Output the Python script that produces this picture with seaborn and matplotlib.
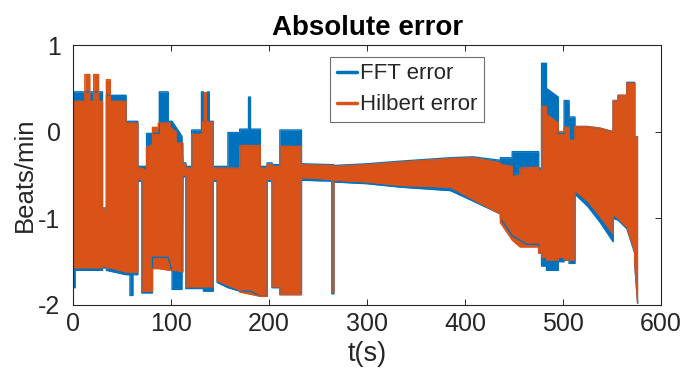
import numpy as np
import pandas as pd
import matplotlib
matplotlib.use("Agg")
import matplotlib.pyplot as plt
from matplotlib.lines import Line2D
import seaborn as sns

# ---- data (envelope vertices of the dense oscillation) ----
hil_t = [0.5, 12, 12, 17, 17, 21, 21, 26, 26, 30, 30, 34, 34, 38, 38, 54, 54, 66, 66, 70,
         70, 75, 75, 81, 81, 87, 87, 99, 99, 105, 105, 112, 112, 115, 115, 121, 121, 132, 132, 134,
         134, 136, 136, 143, 143, 147, 147, 170, 170, 191, 191, 198, 198, 203, 203, 211, 211, 233, 233, 264,
         264, 266, 266, 300, 334, 385, 408, 436, 436, 448, 448, 456, 456, 475, 475, 478, 478, 483, 483, 495,
         495, 501, 501, 506, 506, 512, 512, 525, 538, 551, 551, 556, 556, 565, 565, 573, 573, 576]
hil_hi = [0.35, 0.35, 0.66, 0.66, 0.35, 0.35, 0.66, 0.66, 0.35, 0.35, -0.90, -0.90, 0.60, 0.60, 0.35, 0.35, 0.10, 0.10, -0.42, -0.42,
          -0.42, -0.45, -0.18, -0.15, 0.05, 0.05, 0.10, 0.10, 0.05, 0.00, -0.13, -0.13, -0.38, -0.38, -0.42, -0.42, -0.03, -0.03, 0.11, 0.11,
          0.45, 0.45, 0.11, 0.11, -0.42, -0.42, -0.42, -0.42, -0.16, -0.16, -0.42, -0.42, -0.38, -0.38, -0.40, -0.40, -0.17, -0.17, -0.38, -0.39,
          -0.39, -0.39, -0.40, -0.38, -0.35, -0.31, -0.30, -0.36, -0.38, -0.40, -0.52, -0.50, -0.42, -0.41, -0.45, -0.45, 0.29, 0.29, 0.20, 0.10,
          0.00, 0.00, 0.05, 0.05, -0.10, -0.10, 0.06, 0.06, 0.04, 0.00, 0.36, 0.36, 0.42, 0.42, 0.56, 0.56, -0.06, -0.06]
hil_lo = [-1.57, -1.57, -1.57, -1.57, -1.57, -1.57, -1.57, -1.57, -1.57, -1.57, -1.55, -1.55, -1.57, -1.57, -1.57, -1.62, -1.62, -1.62, -0.55, -0.55,
          -1.84, -1.84, -1.84, -1.84, -1.58, -1.58, -1.58, -1.60, -1.60, -1.60, -1.60, -1.62, -0.50, -0.50, -1.79, -1.79, -1.79, -1.79, -1.79, -1.79,
          -1.79, -1.79, -1.79, -1.79, -0.55, -0.55, -1.72, -1.83, -1.85, -1.90, -1.90, -1.90, -0.55, -0.55, -1.79, -1.79, -1.88, -1.88, -0.53, -0.55,
          -1.85, -1.85, -0.56, -0.58, -0.62, -0.64, -0.78, -0.95, -1.05, -1.25, -1.25, -1.33, -1.33, -1.33, -1.40, -1.40, -1.45, -1.45, -1.48, -1.48,
          -1.45, -1.45, -1.48, -1.48, -1.48, -1.48, -0.68, -0.80, -0.98, -1.18, -0.95, -1.00, -1.00, -1.10, -1.10, -1.38, -1.50, -1.98]

fft_t = [0, 2, 2, 30, 30, 34, 34, 54, 54, 58, 58, 61, 61, 66, 66, 70, 70, 75, 75, 81,
         81, 88, 88, 97, 97, 101, 101, 111, 112, 115, 115, 121, 121, 131, 131, 133, 133, 137, 137, 139,
         139, 143, 143, 147, 147, 158, 158, 170, 170, 179, 179, 181, 181, 191, 191, 198, 198, 203, 203, 211,
         211, 233, 233, 264, 264, 266, 266, 300, 334, 385, 408, 436, 436, 448, 448, 463, 475, 475, 478, 478,
         483, 483, 495, 495, 501, 501, 506, 506, 512, 512, 525, 538, 551, 551, 556, 556, 565, 565, 573, 573, 576]
fft_hi = [0.46, 0.46, 0.46, 0.46, -0.88, -0.88, 0.42, 0.42, 0.12, 0.12, 0.12, 0.12, 0.12, 0.12, -0.40, -0.40, -0.40, -0.40, -0.02, -0.02,
          -0.02, -0.02, 0.46, 0.46, 0.12, 0.12, 0.12, -0.05, -0.36, -0.36, -0.40, -0.40, 0.02, 0.02, 0.46, 0.46, 0.12, 0.12, 0.46, 0.46,
          0.12, 0.12, -0.40, -0.40, -0.40, -0.40, -0.01, -0.01, 0.03, 0.03, 0.40, 0.40, 0.03, 0.03, -0.40, -0.40, -0.36, -0.36, -0.38, -0.38,
          0.02, 0.02, -0.37, -0.38, -0.38, -0.38, -0.39, -0.37, -0.34, -0.30, -0.29, -0.33, -0.30, -0.30, -0.23, -0.23, -0.23, -0.42, -0.42, 0.79,
          0.79, 0.50, 0.40, -0.02, -0.02, 0.36, 0.36, 0.17, 0.17, 0.06, 0.06, 0.04, 0.00, 0.36, 0.36, 0.42, 0.42, 0.57, 0.57, -0.06, -0.06]
fft_lo = [-1.80, -1.80, -1.60, -1.60, -1.57, -1.57, -1.60, -1.65, -1.65, -1.65, -1.89, -1.89, -1.65, -1.65, -0.57, -0.57, -1.86, -1.86, -1.86, -1.86,
          -1.45, -1.45, -1.45, -1.45, -1.45, -1.62, -1.82, -1.82, -0.52, -0.52, -1.81, -1.81, -1.81, -1.81, -1.81, -1.81, -1.84, -1.84, -1.84, -1.84,
          -1.84, -1.84, -0.57, -0.57, -1.74, -1.80, -1.80, -1.84, -1.84, -1.84, -1.84, -1.84, -1.84, -1.90, -1.90, -1.90, -0.57, -0.57, -1.80, -1.80,
          -1.88, -1.88, -0.56, -0.57, -1.87, -1.87, -0.58, -0.60, -0.64, -0.68, -0.80, -0.95, -1.00, -1.20, -1.20, -1.30, -1.30, -1.40, -1.40, -1.55,
          -1.55, -1.60, -1.60, -1.50, -1.50, -1.48, -1.48, -1.52, -1.52, -0.72, -0.86, -1.05, -1.27, -1.00, -1.02, -1.02, -1.12, -1.12, -1.40, -1.52, -1.98]

series_names = ["FFT error", "Hilbert error"]
colors = ["#0072BD", "#D95319"]
x_ticks = [0, 100, 200, 300, 400, 500, 600]
y_ticks = [-2, -1, 0, 1]
title = "Absolute error"
xlabel = "t(s)"
ylabel = "Beats/min"

# ---- style ----
sns.set_theme(style="white")
plt.rcParams["font.family"] = ["Liberation Sans", "DejaVu Sans"]
ink = "#262626"

fig = plt.figure(figsize=(6.83, 3.82), dpi=100)
ax = fig.add_axes([0.107, 0.2016, 0.861, 0.6804])

frames = [
    pd.DataFrame({"t": fft_t, "hi": fft_hi, "lo": fft_lo}),
    pd.DataFrame({"t": hil_t, "hi": hil_hi, "lo": hil_lo}),
]
for df, c in zip(frames, colors):
    ax.fill_between(df["t"], df["lo"], df["hi"], color=c, lw=0)
    sns.lineplot(data=df, x="t", y="hi", estimator=None, sort=False, color=c, lw=1.0, ax=ax)
    sns.lineplot(data=df, x="t", y="lo", estimator=None, sort=False, color=c, lw=1.0, ax=ax)

ax.set_xlim(0, 600)
ax.set_ylim(-2, 1)
ax.set_xticks(x_ticks)
ax.set_yticks(y_ticks)
ax.set_xticklabels([str(v) for v in x_ticks])
ax.set_yticklabels([str(v) for v in y_ticks])
ax.tick_params(direction="in", length=4, width=0.7, colors=ink, labelsize=18,
               top=True, right=True, bottom=True, left=True, labelcolor=ink)
ax.tick_params(axis="y", pad=9)
ax.tick_params(axis="x", pad=5)
for s in ax.spines.values():
    s.set_visible(True)
    s.set_color(ink)
    s.set_linewidth(0.8)

ax.set_title(title, fontsize=20, fontweight="bold", color="black", pad=7)
ax.set_xlabel(xlabel, fontsize=19.5, color=ink, labelpad=4)
ax.set_ylabel(ylabel, fontsize=18.5, color=ink, labelpad=1)

handles = [Line2D([0], [0], color=c, lw=2.5) for c in colors]
leg = ax.legend(handles, series_names, loc="upper left", bbox_to_anchor=(0.437, 0.955),
                fontsize=16, frameon=True, fancybox=False, framealpha=1,
                handlelength=0.9, handletextpad=0.15, borderpad=0.3, labelspacing=0.45,
                borderaxespad=0)
leg.get_frame().set_edgecolor("#6e6e6e")
leg.get_frame().set_linewidth(0.8)

fig.savefig("out.png", dpi=100)
